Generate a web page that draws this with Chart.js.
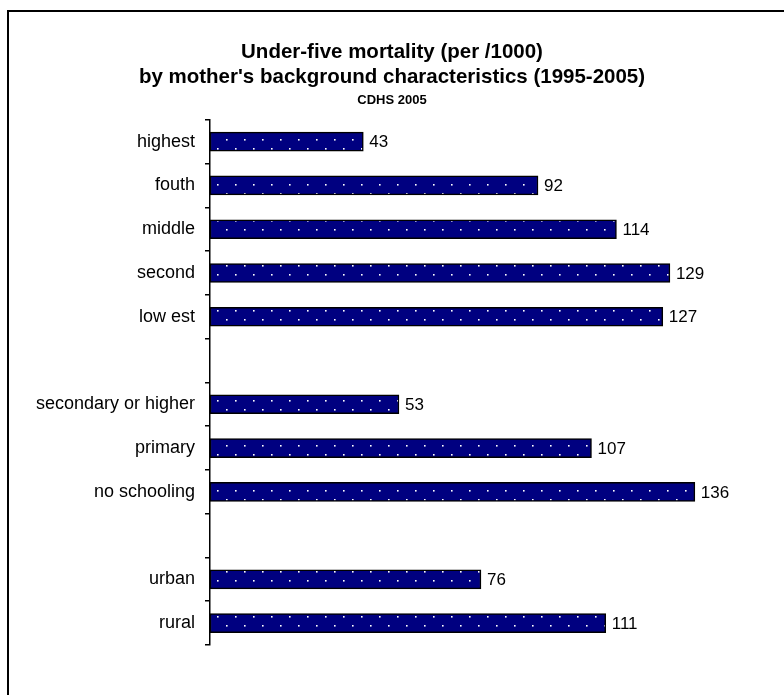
<!DOCTYPE html>
<html>
<head>
<meta charset="utf-8">
<script src="https://cdn.jsdelivr.net/npm/chart.js@4.4.1/dist/chart.umd.min.js"></script>
<style>
  html, body { margin: 0; padding: 0; background: #fff; }
  #wrap { position: relative; width: 784px; height: 695px; overflow: hidden; }
  #frame {
    position: absolute; left: 7px; top: 10px; width: 800px; height: 700px;
    border-left: 2px solid #000; border-top: 2px solid #000;
    box-sizing: border-box; pointer-events: none;
  }
  canvas { position: absolute; left: 0; top: 0; }
</style>
</head>
<body>
<div id="wrap">
  <canvas id="myChart" width="784" height="695"></canvas>
  <div id="frame"></div>
</div>
<script>
/* globals Chart:false */

// categories top to bottom, '' = gap between groups
var categories = ['highest', 'fouth', 'middle', 'second', 'low est', '',
                  'secondary or higher', 'primary', 'no schooling', '',
                  'urban', 'rural'];
var mortality = [43, 92, 114, 129, 127, null, 53, 107, 136, null, 76, 111];

var titleLines = ['Under-five mortality (per /1000)',
                  "by mother's background characteristics (1995-2005)"];
var subtitleText = 'CDHS 2005';

var FONT = "Arial, 'Liberation Sans', sans-serif";

// navy fill with staggered white dots
function dotPattern() {
    var c = document.createElement('canvas');
    c.width = 18;
    c.height = 18;
    var g = c.getContext('2d');
    g.fillStyle = '#000080';
    g.fillRect(0, 0, 18, 18);
    g.fillStyle = '#ffffff';
    g.fillRect(1, 4, 1.6, 1.6);
    g.fillRect(10, 13, 1.6, 1.6);
    return g.createPattern(c, 'repeat');
}

// value at the end of each bar
var valueLabels = {
    id: 'valueLabels',
    afterDatasetsDraw: function (chart) {
        var ctx = chart.ctx;
        var meta = chart.getDatasetMeta(0);
        ctx.save();
        ctx.font = '17px ' + FONT;
        ctx.fillStyle = '#000';
        ctx.textAlign = 'left';
        ctx.textBaseline = 'middle';
        meta.data.forEach(function (bar, i) {
            var v = chart.data.datasets[0].data[i];
            if (v === null) return;
            ctx.fillText(String(v), bar.x + 6, bar.y + 1);
        });
        ctx.restore();
    }
};

function createChart(ctx) {
    'use strict'

    return new Chart(ctx, {
        type: 'bar',
        data: {
            labels: categories,
            datasets: [{
                data: mortality,
                backgroundColor: dotPattern(),
                borderColor: '#000',
                borderWidth: 1.5,
                borderSkipped: false,
                barThickness: 19
            }]
        },
        options: {
            indexAxis: 'y',
            responsive: false,
            animation: false,
            layout: { padding: { top: 0, right: 0, bottom: 50, left: 0 } },
            plugins: {
                legend: { display: false },
                tooltip: { enabled: false },
                title: {
                    display: true,
                    text: titleLines,
                    color: '#000',
                    font: { family: FONT, size: 20.5, weight: 'bold', lineHeight: 1.2 },
                    padding: { top: 40, bottom: 3 }
                },
                subtitle: {
                    display: true,
                    text: subtitleText,
                    color: '#000',
                    font: { family: FONT, size: 13, weight: 'bold', lineHeight: 1.2 },
                    padding: { top: 0, bottom: 12 }
                }
            },
            scales: {
                x: {
                    display: false,
                    min: 0,
                    max: 161
                },
                y: {
                    afterFit: function (scale) { scale.width = 210; },
                    border: { display: true, color: '#000', width: 1.5 },
                    grid: {
                        offset: true,
                        drawOnChartArea: false,
                        color: '#000',
                        lineWidth: 1.5,
                        tickLength: 5
                    },
                    ticks: {
                        color: '#000',
                        padding: 10,
                        font: { family: FONT, size: 18 }
                    }
                }
            }
        },
        plugins: [valueLabels]
    });
}

// Create chart
createChart(document.getElementById('myChart'));
</script>
</body>
</html>
